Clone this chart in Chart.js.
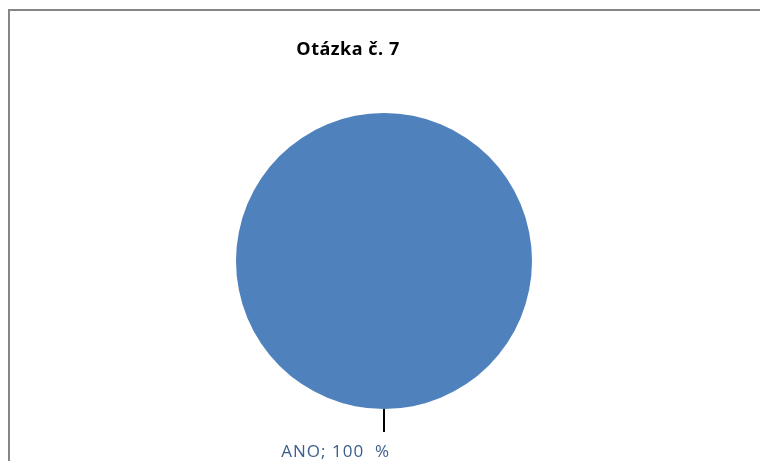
<!DOCTYPE html>
<html>
<head>
<meta charset="utf-8">
<script src="https://cdn.jsdelivr.net/npm/chart.js@4/dist/chart.umd.min.js"></script>
<style>
  html, body { margin:0; padding:0; background:#fff; }
  #wrap { position:relative; width:760px; height:461px; overflow:hidden; }
  #frame { position:absolute; left:8px; top:9px; width:800px; height:500px;
           border-left:2px solid #868686; border-top:2px solid #868686; }
  canvas { position:absolute; left:0; top:0; }
</style>
</head>
<body>
<div id="wrap">
  <div id="frame"></div>
  <canvas id="pie" width="760" height="461"></canvas>
</div>
<script>
const chartTitle = "Otázka č. 7";
const labels = ["ANO"];
const values = [100];
const colors = ["#4F81BD"];

/* title + leader-line label, Excel style */
const excelLabels = {
  id: "excelLabels",
  afterDraw(chart) {
    const ctx = chart.ctx;
    ctx.save();
    ctx.fillStyle = "#000";
    ctx.font = "bold 18px 'Open Sans', sans-serif";
    ctx.letterSpacing = "0.5px";
    ctx.textAlign = "center";
    ctx.textBaseline = "middle";
    ctx.fillText(chartTitle, 348, 50);

    const total = values.reduce((a, b) => a + b, 0);
    chart.getDatasetMeta(0).data.forEach((arc, i) => {
      const pct = Math.round(values[i] / total * 100);
      const bottom = arc.y + arc.outerRadius;
      ctx.strokeStyle = "#000";
      ctx.lineWidth = 2;
      ctx.beginPath();
      ctx.moveTo(arc.x, bottom);
      ctx.lineTo(arc.x, bottom + 23);
      ctx.stroke();
      ctx.fillStyle = "#3B5E8C";
      ctx.font = "17px 'Open Sans', sans-serif";
      ctx.letterSpacing = "1px";
      ctx.textAlign = "right";
      ctx.fillText(labels[i] + "; " + pct + "  %", arc.x + 6, bottom + 43);
    });
    ctx.restore();
  }
};

new Chart(document.getElementById("pie"), {
  type: "pie",
  data: { labels, datasets: [{ data: values, backgroundColor: colors, borderWidth: 0 }] },
  options: {
    responsive: false,
    animation: false,
    layout: { padding: { left: 236, right: 228, top: 113, bottom: 52 } },
    plugins: { legend: { display: false }, tooltip: { enabled: false }, title: { display: false } }
  },
  plugins: [excelLabels]
});
</script>
</body>
</html>
